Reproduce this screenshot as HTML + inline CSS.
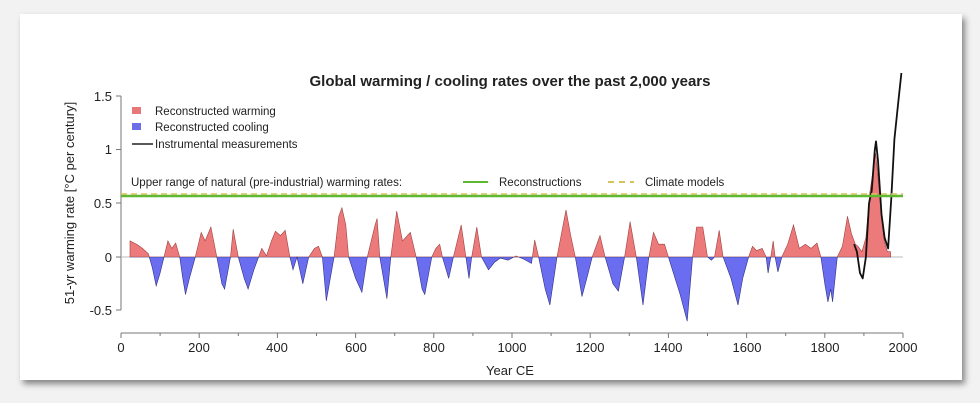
<!DOCTYPE html>
<html><head><meta charset="utf-8"><style>
html,body{margin:0;padding:0;background:#f2f2f2;width:980px;height:403px;overflow:hidden}
#card{position:absolute;left:20px;top:14px;width:942px;height:366px;background:#fff;box-shadow:3px 4px 6px rgba(0,0,0,0.45)}
svg{position:absolute;left:0;top:0}
text{font-family:"Liberation Sans",Arial,sans-serif;fill:#222}
</style></head><body>
<div id="card"></div>
<svg width="980" height="403" xmlns="http://www.w3.org/2000/svg">
<defs>
<clipPath id="pos"><rect x="0" y="0" width="980" height="257"/></clipPath>
<clipPath id="neg"><rect x="0" y="257" width="980" height="146"/></clipPath>
</defs>
<text x="510" y="86" font-size="15" font-weight="bold" text-anchor="middle">Global warming / cooling rates over the past 2,000 years</text>
<line x1="121" y1="96" x2="121" y2="310" stroke="#777" stroke-width="1"/>
<g stroke="#777"><line x1="116" y1="96" x2="121" y2="96"/><line x1="116" y1="149.5" x2="121" y2="149.5"/><line x1="116" y1="203" x2="121" y2="203"/><line x1="116" y1="257" x2="121" y2="257"/><line x1="116" y1="310" x2="121" y2="310"/></g>
<g font-size="13" text-anchor="end"><text x="112" y="101">1.5</text><text x="112" y="154">1</text><text x="112" y="208">0.5</text><text x="112" y="262">0</text><text x="112" y="315">-0.5</text></g>
<text transform="translate(74,203) rotate(-90)" font-size="13" text-anchor="middle">51-yr warming rate [°C per century]</text>
<line x1="121" y1="333" x2="903" y2="333" stroke="#777"/>
<g id="xt" stroke="#777"></g>
<g font-size="13" text-anchor="middle"><text x="121" y="352">0</text><text x="199" y="352">200</text><text x="277" y="352">400</text><text x="356" y="352">600</text><text x="434" y="352">800</text><text x="512" y="352">1000</text><text x="590" y="352">1200</text><text x="668" y="352">1400</text><text x="747" y="352">1600</text><text x="825" y="352">1800</text><text x="903" y="352">2000</text></g>
<text x="510" y="375" font-size="13" text-anchor="middle">Year CE</text>
<rect x="132" y="107" width="9" height="7" fill="#e8777a"/>
<rect x="132" y="123" width="9" height="7" fill="#6b6ee6"/>
<line x1="132" y1="144" x2="153" y2="144" stroke="#222" stroke-width="1.5"/>
<g font-size="11.5"><text x="155" y="115">Reconstructed warming</text><text x="155" y="131">Reconstructed cooling</text><text x="155" y="148">Instrumental measurements</text>
<text x="131" y="186">Upper range of natural (pre-industrial) warming rates:</text>
<text x="499" y="186">Reconstructions</text><text x="645" y="186">Climate models</text></g>
<line x1="463" y1="182" x2="488" y2="182" stroke="#5fb832" stroke-width="2"/>
<line x1="608" y1="182" x2="634" y2="182" stroke="#d6c35a" stroke-width="2" stroke-dasharray="6,5"/>
<line x1="121" y1="257" x2="903" y2="257" stroke="#bbb" stroke-width="1"/>
<g id="series"></g>
<line x1="121" y1="196" x2="903" y2="196" stroke="#5fb832" stroke-width="2.5"/>
<line x1="121" y1="194" x2="903" y2="194" stroke="#d6c35a" stroke-width="1.5" stroke-dasharray="6,4"/>
</svg>
<script>
var X=function(yr){return 121+yr*0.391},Y=function(v){return 257-107*v};
var xt=document.getElementById('xt'),s='';
for(var i=0;i<=20;i++){var x=X(i*100);s+='<line x1="'+x+'" y1="333" x2="'+x+'" y2="'+(i%2?336:338)+'"/>';}
xt.innerHTML=s;
var k=[[23,0.15],[40,0.12],[55,0.08],[70,0.03],[80,-0.1],[90,-0.27],[100,-0.15],[110,0],[120,0.15],[130,0.08],[140,0.13],[150,0],[158,-0.2],[165,-0.35],[175,-0.2],[190,0],[205,0.23],[215,0.15],[230,0.28],[245,0],[258,-0.25],[265,-0.3],[280,0],[287,0.26],[300,0],[315,-0.2],[325,-0.3],[340,-0.12],[352,0],[360,0.08],[372,0.01],[385,0.15],[395,0.24],[408,0.2],[420,0.25],[432,0],[440,-0.12],[450,0],[465,-0.25],[480,0],[495,0.08],[505,0.1],[515,0],[525,-0.41],[545,0],[557,0.38],[565,0.46],[575,0.3],[582,0],[600,-0.2],[616,-0.33],[630,0],[650,0.3],[655,0.36],[662,0],[680,-0.39],[690,0],[705,0.43],[720,0.15],[740,0.23],[755,0],[770,-0.3],[777,-0.35],[795,0],[805,0.08],[815,0.12],[822,0],[838,-0.2],[850,0],[870,0.3],[882,0],[890,-0.2],[897,0],[910,0.28],[922,0],[940,-0.12],[955,-0.05],[970,-0.01],[990,-0.03],[1010,0.01],[1030,-0.02],[1050,-0.06],[1058,0.16],[1068,0],[1085,-0.3],[1097,-0.45],[1115,0],[1138,0.44],[1150,0.2],[1162,0],[1179,-0.37],[1195,-0.15],[1205,0],[1225,0.2],[1238,0],[1258,-0.25],[1272,-0.32],[1288,0],[1302,0.33],[1318,0],[1335,-0.45],[1350,0],[1362,0.23],[1375,0.12],[1390,0.12],[1400,0],[1430,-0.35],[1448,-0.6],[1462,0],[1472,0.28],[1488,0.28],[1500,0],[1510,-0.03],[1518,0],[1530,0.25],[1540,0],[1560,-0.2],[1578,-0.45],[1590,-0.2],[1605,0],[1615,0.1],[1625,0.06],[1640,0.08],[1650,0],[1655,-0.15],[1662,0],[1668,0.15],[1673,0],[1680,-0.14],[1690,0],[1705,0.12],[1720,0.3],[1735,0.08],[1750,0.12],[1765,0.08],[1780,0.13],[1790,0],[1800,-0.25],[1808,-0.42],[1815,-0.3],[1820,-0.42],[1832,0],[1845,0.1],[1858,0.38],[1868,0.22],[1878,0.12],[1885,0.1],[1895,0.05],[1905,0.18],[1915,0.6],[1930,0.97],[1940,0.6],[1952,0.15],[1960,0.05],[1968,0.05],[1968.5,0]];
var d='M'+X(23)+','+Y(0);
k.forEach(function(p){d+=' L'+X(p[0]).toFixed(1)+','+Y(p[1]).toFixed(1)});
d+=' L'+X(1968.5)+','+Y(0)+'Z';
var b=[[1875,0.12],[1882,0.05],[1890,-0.15],[1897,-0.2],[1905,0],[1913,0.5],[1920,0.62],[1928,1.0],[1931,1.08],[1936,0.9],[1945,0.4],[1953,0.18],[1962,0.08],[1970,0.55],[1978,1.1],[1988,1.45],[1996,1.72]];
var bd='M'+b.map(function(p){return X(p[0]).toFixed(1)+','+Y(p[1]).toFixed(1)}).join(' L');
document.getElementById('series').innerHTML=
'<path d="'+d+'" fill="#ec7a7a" stroke="#a04040" stroke-width="0.6" clip-path="url(#pos)"/>'+
'<path d="'+d+'" fill="#6a6df0" stroke="#303080" stroke-width="0.6" clip-path="url(#neg)"/>'+
'<path d="'+bd+'" fill="none" stroke="#111" stroke-width="1.8" stroke-linejoin="round"/>';
</script>
</body></html>
